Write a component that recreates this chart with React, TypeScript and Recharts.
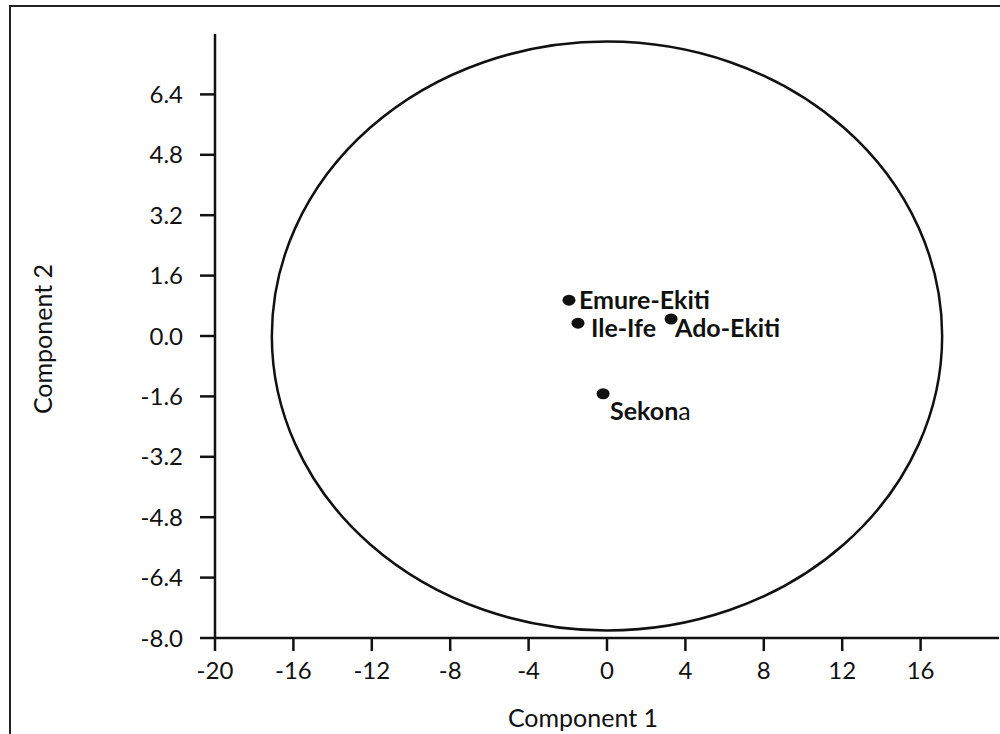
import React from 'react';
import {
  ScatterChart,
  Scatter,
  XAxis,
  YAxis,
  ReferenceArea,
} from 'recharts';

const X_TICKS = [-20, -16, -12, -8, -4, 0, 4, 8, 12, 16];
const Y_TICKS = [-8, -6.4, -4.8, -3.2, -1.6, 0, 1.6, 3.2, 4.8, 6.4];

const SITES = ['Emure-Ekiti', 'Ile-Ife', 'Ado-Ekiti', 'Sekona'];
const COMPONENT_1 = [-1.94, -1.48, 3.27, -0.2];
const COMPONENT_2 = [0.95, 0.34, 0.45, -1.53];

// 95% ellipse extent (component 1, component 2)
const ELLIPSE_X = [-17.1, 17.1];
const ELLIPSE_Y = [-7.8, 7.8];

const FONT = 'Lato, "Open Sans", sans-serif';
const INK = '#111';

// where each site label sits relative to its dot
const LABEL_OFFSET: Record<string, { dx: number; dy: number }> = {
  'Emure-Ekiti': { dx: 10, dy: 9 },
  'Ile-Ife': { dx: 13, dy: 14 },
  'Ado-Ekiti': { dx: 4, dy: 18 },
  Sekona: { dx: 7, dy: 26 },
};

const points = SITES.map((name, i) => ({
  name,
  x: COMPONENT_1[i],
  y: COMPONENT_2[i],
}));

const SiteDot = (props: any) => {
  const { cx, cy, payload } = props;
  const off = LABEL_OFFSET[payload.name] ?? { dx: 8, dy: 8 };
  return (
    <g>
      <ellipse cx={cx} cy={cy} rx={6.5} ry={5.5} fill={INK} />
      <text
        x={cx + off.dx}
        y={cy + off.dy}
        fill={INK}
        fontFamily={FONT}
        fontSize={25}
        fontWeight={700}
      >
        {payload.name === 'Sekona' ? (
          <>
            <tspan>Sekon</tspan>
            <tspan fontWeight={400}>a</tspan>
          </>
        ) : (
          payload.name
        )}
      </text>
    </g>
  );
};

const EllipseShape = (props: any) => {
  const { x, y, width, height } = props;
  return (
    <ellipse
      cx={x + width / 2}
      cy={y + height / 2}
      rx={width / 2}
      ry={height / 2}
      fill="none"
      stroke={INK}
      strokeWidth={2.5}
    />
  );
};

const tickStyle = { fill: INK, fontSize: 24, fontFamily: FONT };

export default function App() {
  return (
    <div
      style={{
        position: 'fixed',
        left: 0,
        top: 0,
        width: 1000,
        height: 734,
        overflow: 'hidden',
        background: '#fff',
      }}
    >
      <div
        style={{
          position: 'absolute',
          left: 9,
          top: 5,
          width: 1000,
          height: 740,
          borderLeft: '2px solid #222',
          borderTop: '2px solid #222',
        }}
      />
      <div style={{ position: 'absolute', left: 0, top: 0 }}>
        <ScatterChart
          width={1000}
          height={734}
          margin={{ top: 34, right: 1, bottom: 36, left: 0 }}
        >
          <XAxis
            type="number"
            dataKey="x"
            domain={[-20, 20]}
            ticks={X_TICKS}
            interval={0}
            allowDataOverflow
            height={60}
            tick={tickStyle}
            tickSize={13}
            tickMargin={11}
            axisLine={{ stroke: INK, strokeWidth: 2.5 }}
            tickLine={{ stroke: INK, strokeWidth: 2.5 }}
            label={{
              content: () => (
                <text
                  x={583}
                  y={717}
                  textAnchor="middle"
                  dominantBaseline="central"
                  fill={INK}
                  fontFamily={FONT}
                  fontSize={25}
                >
                  Component 1
                </text>
              ),
            }}
          />
          <YAxis
            type="number"
            dataKey="y"
            domain={[-8, 8]}
            ticks={Y_TICKS}
            interval={0}
            allowDataOverflow
            width={215}
            tick={tickStyle}
            tickFormatter={(v: number) => v.toFixed(1)}
            tickSize={15}
            tickMargin={17}
            axisLine={{ stroke: INK, strokeWidth: 2.5 }}
            tickLine={{ stroke: INK, strokeWidth: 2.5 }}
            label={{
              content: () => (
                <text
                  x={42}
                  y={339}
                  transform="rotate(-90 42 339)"
                  textAnchor="middle"
                  dominantBaseline="central"
                  fill={INK}
                  fontFamily={FONT}
                  fontSize={25}
                >
                  Component 2
                </text>
              ),
            }}
          />
          <ReferenceArea
            x1={ELLIPSE_X[0]}
            x2={ELLIPSE_X[1]}
            y1={ELLIPSE_Y[0]}
            y2={ELLIPSE_Y[1]}
            shape={EllipseShape}
          />
          <Scatter
            data={points}
            shape={SiteDot}
            isAnimationActive={false}
          />
        </ScatterChart>
      </div>
    </div>
  );
}
